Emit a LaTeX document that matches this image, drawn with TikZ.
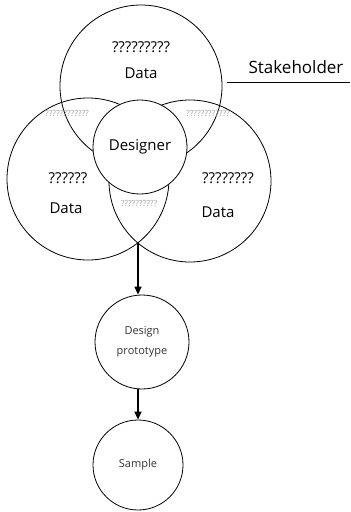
\documentclass[tikz,border=0pt]{standalone}
\usepackage{fontspec}
\setmainfont{Open Sans}
\usetikzlibrary{arrows.meta}
\begin{document}
\begin{tikzpicture}[x=1pt,y=-1pt,
    ring/.style={circle,draw,line width=0.8pt,inner sep=0pt},
    shade/.style={text=black!35,font=\fontsize{8.5}{8.5}\selectfont},
    big/.style={font=\fontsize{15}{15}\selectfont},
    small/.style={text=black!80,font=\fontsize{11}{20}\selectfont},
    flow/.style={-{Triangle[length=8pt,width=7pt]},line width=1.4pt}]
    \useasboundingbox (0,0) rectangle (351,512);
    % three data circles
    \node(top) at (141,86) [ring,minimum size=162pt] {};
    \node(left) at (88,179) [ring,minimum size=162pt] {};
    \node(right) at (190,181) [ring,minimum size=162pt] {};

    \node(tl) at (67,113) [shade] {????????????};
    \node(tr) at (208,113) [shade] {????????????};
    \node(lr) at (139,203) [shade] {??????????};

    \node(des) at (140,147) [ring,minimum size=94pt,fill=white,big] {Designer};

    \node(tq) at (141,47) [big] {?????????};
    \node(td) at (141,73) [big] {Data};
    \node(lq) at (68,178) [big] {??????};
    \node(ld) at (66,208) [big] {Data};
    \node(rq) at (228,178) [big] {????????};
    \node(rd) at (218,212) [big] {Data};

    \node(stake) at (296,67) [font=\fontsize{17}{17}\selectfont] {Stakeholder};
    \coordinate(s1) at (227,82);
    \coordinate(s2) at (350,82);
    \draw[line width=0.8pt] (s1) -- (s2);

    \node(proto) at (142,342) [ring,minimum size=94pt,align=center,small] {Design\\prototype};
    \node(sample) at (138,465) [ring,minimum size=90pt,small] {Sample};

    \coordinate(meet) at (138,242);
    \draw[flow] (meet) -- (proto.north -| meet);
    \draw[flow] (proto.south -| sample) -- (sample.north);
\end{tikzpicture}
\end{document}
